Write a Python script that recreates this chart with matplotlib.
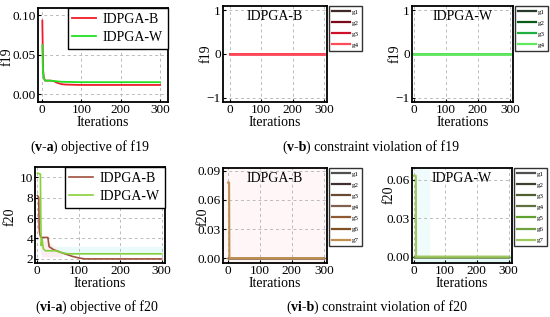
import numpy as np
import matplotlib
matplotlib.use('Agg')
import matplotlib.pyplot as plt

plt.rcParams.update({
    'font.family': ['Liberation Serif', 'DejaVu Serif'],
    'font.size': 10,
    'xtick.labelsize': 9.5,
    'ytick.labelsize': 9.5,
    'axes.linewidth': 1.3,
    'xtick.direction': 'in',
    'ytick.direction': 'in',
    'xtick.major.size': 2,
    'ytick.major.size': 2,
    'xtick.major.pad': 1.5,
    'ytick.major.pad': 1.5,
})

# ---- data ----
f19_b_it = [1, 2, 3, 5, 8, 20, 30, 35, 40, 50, 60, 100, 200, 300]
f19_b = [0.093, 0.06, 0.03, 0.02, 0.017, 0.017, 0.0165, 0.015, 0.014, 0.0125, 0.012, 0.0115, 0.0115, 0.0115]
f19_w_it = [1, 2, 3, 5, 8, 20, 30, 40, 50, 100, 200, 300]
f19_w = [0.062, 0.04, 0.025, 0.02, 0.017, 0.017, 0.0165, 0.016, 0.0155, 0.015, 0.015, 0.015]

f20_b_it = [1, 4, 5, 6, 8, 10, 26, 29, 40, 67, 85, 100, 115, 200, 300]
f20_b = [8.2, 8.0, 5.0, 4.6, 4.2, 4.1, 4.1, 3.2, 2.9, 2.5, 2.25, 2.1, 2.0, 2.0, 2.0]
f20_w_it = [1, 8, 9, 10, 12, 15, 20, 45, 60, 75, 300]
f20_w = [10.4, 10.3, 6.0, 3.3, 3.9, 3.0, 2.8, 2.8, 2.6, 2.5, 2.5]

g_it = [1, 300]
g_zero = [0, 0]
f20_gb_it = [1, 4, 5, 300]
f20_gb = [0.078, 0.078, 0, 0]
f20_gw_it = [1, 7, 8, 300]
f20_gw = [0.063, 0.063, 0, 0]

labels4 = ['g1', 'g2', 'g3', 'g4']
labels7 = ['g1', 'g2', 'g3', 'g4', 'g5', 'g6', 'g7']
cols_19b = ['#402828', '#7a0a1a', '#d0102a', '#ff4a5a']
cols_19w = ['#2a3a2a', '#0a5a1a', '#20b040', '#60e860']
cols_20b = ['#505050', '#403030', '#6a4a30', '#806050', '#905a30', '#805020', '#c09050']
cols_20w = ['#505050', '#404030', '#506030', '#607040', '#60a030', '#70a040', '#a0c860']

xticks = [0, 100, 200, 300]

W, H = 550, 317
fig = plt.figure(figsize=(W / 100, H / 100), dpi=100)
bg = fig.add_axes([0, 0, 1, 1])
bg.set_axis_off()


def add_ax(l, r, t, b):
    return fig.add_axes([l / W, 1 - b / H, (r - l) / W, (b - t) / H])


def style(ax, xlim, ylim, yticks, ylabel, ylab_xy, yfmt=None):
    ax.set_xlim(*xlim)
    ax.set_ylim(*ylim)
    ax.set_xticks(xticks)
    ax.set_yticks(yticks)
    if yfmt:
        ax.set_yticklabels([yfmt.format(v) for v in yticks])
    ax.set_xlabel('Iterations', labelpad=0)
    ax.set_ylabel(ylabel)
    ax.yaxis.set_label_coords(*ylab_xy)
    ax.grid(True, ls=(0, (3, 3)), color='#bbbbbb', lw=0.7)
    ax.set_axisbelow(True)


def glegend(ax, handles, labels):
    lg = ax.legend(handles, labels, loc='upper left', bbox_to_anchor=(1.02, 1.0),
                   borderaxespad=0, fontsize=5, handlelength=2.6, handletextpad=0.3,
                   labelspacing=0.75, borderpad=0.4, frameon=True, fancybox=False)
    lg.get_frame().set_edgecolor('black')
    lg.get_frame().set_linewidth(1.0)


def olegend(ax):
    lg = ax.legend(loc='upper right', bbox_to_anchor=(1.0, 1.0), borderaxespad=0,
                   fontsize=10, handlelength=1.7, handletextpad=0.5, fancybox=False,
                   borderpad=0.35, labelspacing=0.35)
    lg.get_frame().set_edgecolor('black')
    lg.get_frame().set_linewidth(1.0)
    lg.get_frame().set_alpha(1)


def caption(x, y, tag, rest):
    t1 = bg.text(x / W, 1 - y / H, '(', va='center', fontsize=10, transform=bg.transAxes)
    t2 = bg.annotate(tag, xy=(1, 0), xycoords=t1, va='bottom', fontsize=10,
                     fontweight='bold')
    bg.annotate(rest, xy=(1, 0), xycoords=t2, va='bottom', fontsize=10)


# (v-a) objective of f19
ax1 = add_ax(38, 168, 8, 102)
ax1.plot(f19_b_it, f19_b, color='#f01c2a', lw=1.3, label='IDPGA-B')
ax1.plot(f19_w_it, f19_w, color='#22e022', lw=1.3, label='IDPGA-W')
style(ax1, (-10, 320), (-0.0101, 0.109), [0.0, 0.05, 0.10], 'f19', (-0.185, 0.48), '{:.2f}')
olegend(ax1)

# (v-b) constraint violation of f19, IDPGA-B
ax2 = add_ax(223, 327, 6, 102)
hs = []
for c, lw in zip(cols_19b, [1.0, 1.2, 1.4, 2.0]):
    hs.append(ax2.plot(g_it, g_zero, color=c, lw=lw)[0])
style(ax2, (-22, 310), (-1.1, 1.1), [-1, 0, 1], 'f19', (-0.1, 0.5))
ax2.text(0.5, 0.96, 'IDPGA-B', transform=ax2.transAxes, ha='center', va='top')
glegend(ax2, hs, labels4)

# IDPGA-W
ax3 = add_ax(412, 513, 6, 102)
hs = []
for c, lw in zip(cols_19w, [1.0, 1.2, 1.4, 2.0]):
    hs.append(ax3.plot(g_it, g_zero, color=c, lw=lw)[0])
style(ax3, (-5, 310), (-1.1, 1.1), [-1, 0, 1], 'f19', (-0.1, 0.5))
ax3.text(0.5, 0.96, 'IDPGA-W', transform=ax3.transAxes, ha='center', va='top')
glegend(ax3, hs, labels4)

# (vi-a) objective of f20
ax4 = add_ax(35, 165, 167, 263)
ax4.axhspan(2.5, 3.15, xmin=0.05, color='#eafafa', zorder=0)
ax4.fill_between([10, 30, 60], [2.2, 2.2, 2.2], [4.0, 3.6, 2.6], color='#fcedf1', zorder=0, lw=0)
ax4.plot(f20_b_it, f20_b, color='#a0503c', lw=1.2, label='IDPGA-B')
ax4.plot(f20_w_it, f20_w, color='#86d03a', lw=1.2, label='IDPGA-W')
style(ax4, (-5, 308), (1.6, 11.0), [2, 4, 6, 8, 10], 'f20', (-0.14, 0.48))
olegend(ax4)

# (vi-b) constraint violation of f20, IDPGA-B
ax5 = add_ax(223, 327, 168, 263)
ax5.axvspan(-15, 310, color='#fff6f8', zorder=0)
hs = []
for c in cols_20b[:-1]:
    hs.append(ax5.plot(g_it, g_zero, color=c, lw=1.0)[0])
hs.append(ax5.plot(f20_gb_it, f20_gb, color=cols_20b[-1], lw=1.5)[0])
style(ax5, (-15, 310), (-0.005, 0.093), [0.0, 0.03, 0.06, 0.09], 'f20', (-0.13, 0.49), '{:.2f}')
ax5.text(0.5, 0.96, 'IDPGA-B', transform=ax5.transAxes, ha='center', va='top')
glegend(ax5, hs, labels7)

# IDPGA-W
ax6 = add_ax(412, 512, 168, 263)
ax6.axvspan(0, 50, color='#f0fbfb', zorder=0)
ax6.axhspan(-0.005, 0.0, color='#e4f8f8', zorder=0)
hs = []
for c in cols_20w[:-1]:
    hs.append(ax6.plot(g_it, g_zero, color=c, lw=1.0)[0])
hs.append(ax6.plot(f20_gw_it, f20_gw, color=cols_20w[-1], lw=1.5)[0])
style(ax6, (-5, 311), (-0.005, 0.069), [0.0, 0.03, 0.06], 'f20', (-0.16, 0.72), '{:.2f}')
ax6.text(0.5, 0.96, 'IDPGA-W', transform=ax6.transAxes, ha='center', va='top')
glegend(ax6, hs, labels7)

for ax in (ax2, ax3, ax5, ax6):
    for lg_line in ax.get_legend().get_lines():
        lg_line.set_linewidth(1.6)

caption(30, 147, 'v-a', ') objective of f19')
caption(282, 147, 'v-b', ') constraint violation of f19')
caption(35, 307, 'vi-a', ') objective of f20')
caption(286, 307, 'vi-b', ') constraint violation of f20')

fig.savefig('out.png', dpi=100)
